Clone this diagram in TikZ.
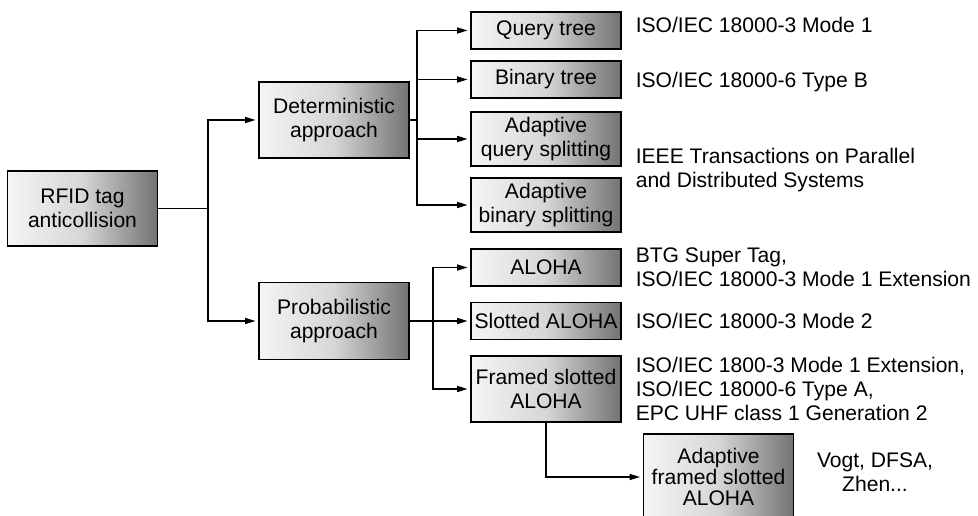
\documentclass[tikz,border=0pt]{standalone}
\usepackage{fontspec}
\setmainfont{Liberation Sans}
\usetikzlibrary{arrows.meta}

\begin{document}
\begin{tikzpicture}[x=0.02cm, y=-0.02cm, line width=0.9pt,
    caja/.style={draw, left color=black!4, right color=black!55, middle color=black!16,
      minimum width=3cm, align=center, inner sep=0pt, font=\fontsize{12}{14}\selectfont},
    nota/.style={anchor=west, align=left, inner sep=0pt, font=\fontsize{12}{13.6}\selectfont},
    flecha/.style={-{Triangle[length=2.1mm,width=1.2mm]}, shorten >=1.5pt}]
    \useasboundingbox (0,0) rectangle (978,516);
    % Raiz y enfoques
    \node[caja, minimum height=1.5cm] (rfid) at (82.5,208.5) {RFID tag\\anticollision};
    \node[caja, minimum height=1.52cm] (det) at (334,120) {Deterministic\\approach};
    \node[caja, minimum height=1.54cm] (prob) at (334,321) {Probabilistic\\approach};
    % Protocolos deterministas
    \node[caja, minimum height=0.74cm] (qt) at (546,30.5) {Query tree};
    \node[caja, minimum height=0.74cm] (bt) at (546,79.5) {Binary tree};
    \node[caja, minimum height=1.08cm] (aqs) at (546,139) {Adaptive\\query splitting};
    \node[caja, minimum height=1.08cm] (abs) at (546,205) {Adaptive\\binary splitting};
    % Protocolos probabilisticos
    \node[caja, minimum height=0.74cm] (aloha) at (546,267.5) {ALOHA};
    \node[caja, minimum height=0.74cm] (sa) at (546,321) {Slotted ALOHA};
    \node[caja, minimum height=1.32cm] (fsa) at (546,389) {Framed slotted\\ALOHA};
    \node[caja, minimum height=1.72cm, font=\fontsize{12}{12.2}\selectfont] (afsa) at (718.5,477)
        {Adaptive\\framed slotted\\ALOHA};
    % Normas
    \node[nota] (nqt) at (635,25) {ISO/IEC 18000-3 Mode 1};
    \node[nota] (nbt) at (635,82) {ISO/IEC 18000-6 Type B};
    \node[nota] (nieee) at (635,170) {IEEE Transactions on Parallel\\and Distributed Systems};
    \node[nota] (nbtg) at (635,267) {BTG Super Tag,\\ISO/IEC 18000-3 Mode 1 Extension};
    \node[nota] (nsa) at (635,321) {ISO/IEC 18000-3 Mode 2};
    \node[nota] (nfsa) at (635,389) {ISO/IEC 1800-3 Mode 1 Extension,\\ISO/IEC 18000-6 Type A,\\EPC UHF class 1 Generation 2};
    \node[nota, anchor=center, align=center] (nvogt) at (875,472) {Vogt, DFSA,\\Zhen...};
    % Conexiones
    \coordinate (s1) at (208,208.5);
    \coordinate (s2) at (417,120);
    \coordinate (s3) at (433,321);
    \draw (rfid) -- (s1);
    \draw[flecha] (s1) |- (det);
    \draw[flecha] (s1) |- (prob);
    \draw (det) -- (s2);
    \foreach \n in {qt,bt,aqs,abs}
        \draw[flecha] (s2) |- (\n);
    \draw[flecha] (prob) -- (sa);
    \foreach \n in {aloha,fsa}
        \draw[flecha] (s3) |- (\n);
    \draw[flecha] (fsa.south) |- (afsa);
\end{tikzpicture}
\end{document}
